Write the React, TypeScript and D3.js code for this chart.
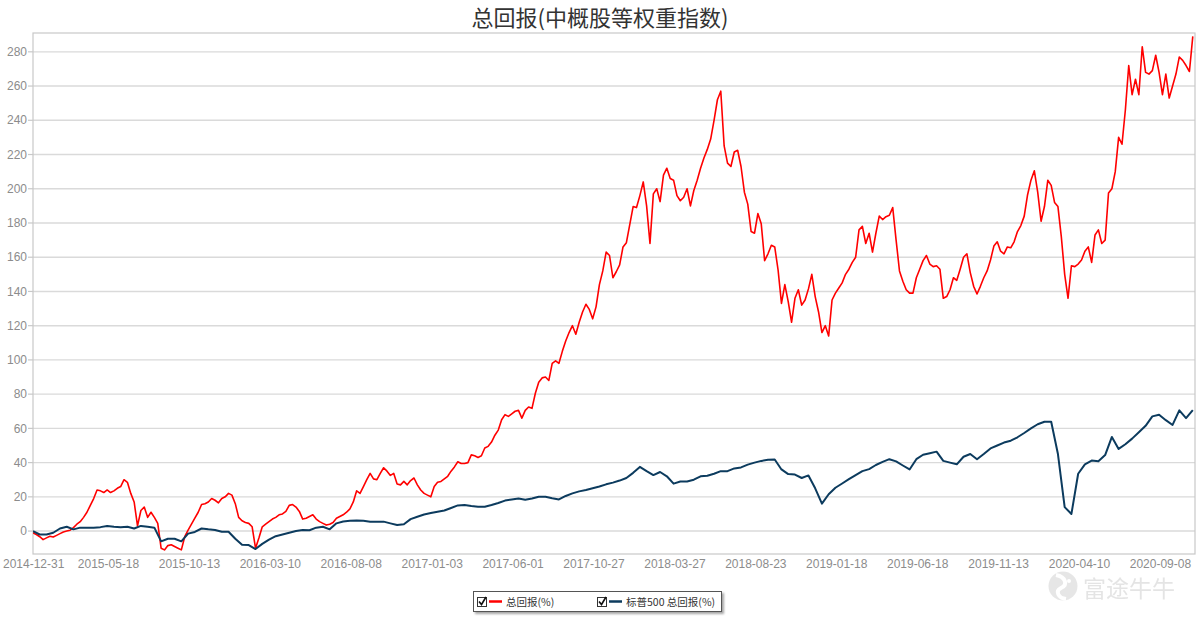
import React from 'react';
import * as d3 from 'd3';

// x-axis labels, one every 24 red samples
const tickLabels = [
  '2014-12-31', '2015-05-18', '2015-10-13', '2016-03-10', '2016-08-08',
  '2017-01-03', '2017-06-01', '2017-10-27', '2018-03-27', '2018-08-23',
  '2019-01-18', '2019-06-18', '2019-11-13', '2020-04-10', '2020-09-08',
];

// 总回报(%), one value per sample step
const totalReturn = [
  -1, -2, -3.3, -5, -4, -3, -3.5, -2.5, -1.5, -0.5, 0, 0.5, 2, 4, 5.5, 8, 11, 15, 19, 24,
  23.5, 22.5, 24, 22.5, 23.5, 25, 26, 30, 28.5, 22, 17, 3, 12, 14, 8, 11, 8, 4.5, -10, -11,
  -8.5, -8, -9, -10, -11, -3.3, 0.5, 4, 7.5, 11, 15.5, 16, 17, 19, 18, 16.5, 19, 20, 22, 21,
  16, 8, 6, 5, 4.5, 2.5, -10, -4, 2.5, 4, 5.5, 7, 8, 9.5, 10, 11.5, 15, 15.5, 14, 11.5,
  7, 7.5, 8.5, 9.5, 7, 5.5, 4.5, 3.5, 4, 5, 7.5, 8.5, 9.5, 11, 13, 17, 23.5, 22, 26, 30,
  33.7, 30.5, 30, 33.7, 37, 35, 32.5, 33.7, 27.5, 27, 29, 27, 29.5, 31, 27, 24, 22, 21, 20, 26,
  28.5, 29, 30.5, 32, 35, 37.5, 40.5, 39.5, 39.5, 40, 44.5, 44, 43, 44, 48.5, 49.5, 52, 56, 59, 65,
  68, 67, 68.5, 70, 70.5, 66, 70.5, 72.5, 71.7, 80.5, 87, 89.5, 90, 88, 98, 99.5, 98, 105, 111, 116,
  120, 115, 122, 128, 132.5, 129.5, 124, 131, 144, 152, 163, 161, 148, 151.5, 155.5, 166, 168.5, 179, 189.6, 189,
  196, 204, 190, 168, 197, 200, 192.5, 208, 212, 206, 205, 196, 193, 195, 200, 190, 199, 205, 212, 218,
  223, 229, 240, 252, 257, 225, 215, 213, 221.5, 222.5, 213, 198, 191, 175, 174, 185.5, 179.5, 158, 162, 167,
  166, 152.5, 133, 144, 134, 122, 136, 141, 132, 135, 141.5, 150, 137, 128, 116, 120, 114, 135, 139, 142,
  145, 150, 153, 157, 160, 176, 178, 168, 174, 163, 174, 184, 182, 183.7, 184.5, 189, 170, 152, 146, 141,
  139, 139, 148, 153, 158, 161, 156, 154.5, 155, 153, 136, 137, 141, 148, 146.5, 153, 160, 162, 151, 143,
  138.5, 143, 148, 152, 158.4, 166.5, 169, 163.5, 162, 166, 165.5, 169, 175, 178.5, 184, 196.5, 205, 210.5, 198, 181,
  189.6, 205, 202, 192, 189.6, 172, 150, 136, 155, 154.5, 156, 158.4, 163.5, 166, 157, 173, 176, 168, 170, 197.5,
  200, 210, 230, 226, 246, 272, 255, 264, 255, 283, 268, 267, 269, 278, 268, 255, 267, 253, 260, 267,
  277, 275, 272, 268.5, 289,
];

// 标普500 总回报(%) - one value every second step
const spxReturn = [
  0, -2, -2, -1, 1.5, 2.5, 1, 2, 2, 2, 2.3, 3, 2.5, 2.3, 2.5, 1.5, 3, 2.5, 2, -6,
  -4.5, -4.5, -6, -1.5, -0.5, 1.5, 1, 0.6, -0.4, -0.4, -4.5, -8, -8.2, -10.5, -7.5, -5, -3, -2, -1, 0,
  0.6, 0.5, 2, 2.5, 1, 4.5, 5.6, 6, 6.2, 6, 5.5, 5.5, 5.5, 4.5, 3.5, 4, 7, 8.4, 9.7, 10.5,
  11.3, 12, 13.5, 15, 15.2, 14.6, 14.2, 14.2, 15.2, 16.4, 17.8, 18.5, 19, 18.3, 19, 20, 20, 19.2, 18.5, 20.5,
  22, 23.2, 24, 25, 26, 27.3, 28.3, 29.5, 31, 34, 37.5, 35, 32.7, 34.5, 32, 27.7, 29, 29, 30, 32,
  32.3, 33.5, 35, 35, 36.6, 37.2, 38.8, 40, 41, 41.7, 41.8, 36, 33.3, 33, 31, 32.5, 25, 16, 21.5, 25.3,
  27.8, 30.3, 32.7, 35, 36.2, 38.6, 40.4, 42, 40.7, 38.3, 36, 42, 44.6, 45.5, 46.4, 41, 40, 39, 43.4, 45,
  42, 45, 48.3, 50, 51.7, 52.8, 54.8, 57.3, 60, 62.4, 63.9, 63.9, 45, 14, 10, 33.5, 39, 41.2, 40.8, 44.4,
  55, 48, 50.7, 54, 57.7, 61.5, 67, 68, 64.8, 62, 70.5, 66, 70.7,
];

const yTicks = d3.range(0, 281, 20);

const W = 1200;
const H = 617;
const plot = { left: 33, top: 33, right: 1195, bottom: 554 };
const tickStep = 24;
const tickOffset = -1.6;
const sampleWidth = 3.3715;
const spxStep = 2;

const RED = '#ff0000';
const NAVY = '#0c3b5e';
const GRID = '#dadada';
const AXIS = '#c8c8c8';
const LABEL = '#8c8c8c';

export default function App() {
  const n = totalReturn.length;
  const x = d3.scaleLinear().domain([0, n - 1]).range([plot.left, plot.left + sampleWidth * (n - 1)]);
  const y = d3.scaleLinear().domain([-13.4, 291]).range([plot.bottom, plot.top]);

  const redLine = d3.line<number>().x((_, i) => x(i)).y(d => y(d));
  const navyLine = d3.line<number>().x((_, i) => x(i * spxStep)).y(d => y(d));

  const font = '"Liberation Sans", Arial, sans-serif';
  const cjk = '"Noto Sans CJK SC", "Noto Sans", sans-serif';

  return (
    <svg width={W} height={H} style={{ position: 'absolute', left: 0, top: 0, background: '#fff' }}>
      <defs>
        <clipPath id="plotClip">
          <rect x={plot.left} y={plot.top} width={plot.right - plot.left} height={plot.bottom - plot.top} />
        </clipPath>
        <filter id="shadow" x="-5%" y="-20%" width="115%" height="160%">
          <feDropShadow dx="2" dy="2" stdDeviation="1.2" floodColor="#000" floodOpacity="0.35" />
        </filter>
      </defs>

      <text x={600} y={26} textAnchor="middle" fontFamily={cjk} fontSize={22} fill="#333">
        总回报(中概股等权重指数)
      </text>

      {/* grid */}
      {yTicks.map(t => (
        <line key={t} x1={plot.left} x2={plot.right} y1={y(t)} y2={y(t)} stroke={GRID} strokeWidth={1.4} />
      ))}

      {/* frame */}
      <rect x={plot.left} y={plot.top} width={plot.right - plot.left} height={plot.bottom - plot.top}
        fill="none" stroke={AXIS} strokeWidth={1.2} />

      {/* y axis ticks + labels */}
      {yTicks.map(t => (
        <g key={'yl' + t}>
          <line x1={plot.left - 5} x2={plot.left} y1={y(t)} y2={y(t)} stroke={AXIS} strokeWidth={1.2} />
          <text x={plot.left - 6} y={y(t)} dy="0.35em" textAnchor="end" fontFamily={font} fontSize={12} fill={LABEL}>
            {t}
          </text>
        </g>
      ))}

      {/* x labels */}
      {tickLabels.map((lab, k) => {
        const px = x(k * tickStep + tickOffset);
        const first = k === 0;
        return (
          <text key={lab} x={first ? 3 : px} y={plot.bottom + 14} textAnchor={first ? 'start' : 'middle'}
            fontFamily={font} fontSize={12} fill={LABEL}>
            {lab}
          </text>
        );
      })}

      {/* series */}
      <g clipPath="url(#plotClip)">
        <path d={redLine(totalReturn) || ''} fill="none" stroke={RED} strokeWidth={1.6} strokeLinejoin="round" />
        <path d={navyLine(spxReturn) || ''} fill="none" stroke={NAVY} strokeWidth={2} strokeLinejoin="round" />
      </g>

      {/* legend */}
      <g>
        <rect x={473.5} y={591.5} width={248} height={20} fill="#fff" stroke="#555" strokeWidth={1} filter="url(#shadow)" />
        {[
          { x0: 477, color: RED, label: '总回报(%)' },
          { x0: 597, color: NAVY, label: '标普500 总回报(%)' },
        ].map(item => (
          <g key={item.label}>
            <rect x={item.x0 + 0.5} y={597.5} width={9} height={9} fill="#fff" stroke="#333" strokeWidth={1} />
            <path d={`M${item.x0 + 2},${601.5} L${item.x0 + 4.5},${604.5} L${item.x0 + 9},${597}`}
              fill="none" stroke="#111" strokeWidth={1.6} />
            <line x1={item.x0 + 12} x2={item.x0 + 25} y1={601.5} y2={601.5} stroke={item.color} strokeWidth={2.5} />
            <text x={item.x0 + 29} y={605.5} fontFamily={cjk} fontSize={10.5} fill="#333">{item.label}</text>
          </g>
        ))}
      </g>

      {/* watermark */}
      <g opacity={0.9}>
        <circle cx={1063} cy={586} r={14.5} fill="#e4e4e4" />
        <path d="M1056,575 C1066,577 1068,585 1061,588 C1055,591 1058,598 1066,599" fill="none" stroke="#fff" strokeWidth={4} />
        <circle cx={1069} cy={581} r={2} fill="#fff" />
        <text x={1083} y={597} fontFamily={cjk} fontSize={23} fill="#e2e2e2">富途牛牛</text>
      </g>
    </svg>
  );
}
